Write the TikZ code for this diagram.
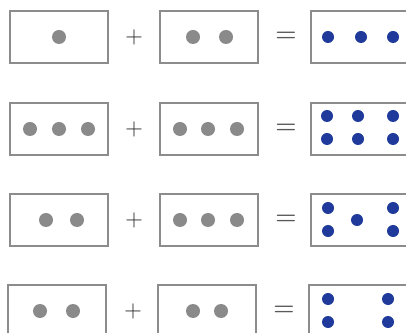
\documentclass[tikz,border=0pt]{standalone}
\usepackage{tikz}
\definecolor{dotgrey}{HTML}{8A8A8A}
\definecolor{dotblue}{HTML}{1F3A9A}
\definecolor{boxline}{HTML}{8C8C8C}
\tikzset{
  numbox/.style={draw=boxline, line width=1.1pt, minimum width=2.45cm, minimum height=1.3cm,
                 inner sep=0pt},
  greydot/.style={circle, fill=dotgrey, minimum size=0.35cm, inner sep=0pt},
  bluedot/.style={circle, fill=dotblue, minimum size=0.3cm, inner sep=0pt},
  plussign/.style={font=\fontsize{18}{18}\selectfont, text=black!85, inner sep=0pt},
  eqsign/.style={font=\fontsize{17}{17}\selectfont\boldmath, text=black!65, inner sep=0pt},
}

\begin{document}
\begin{tikzpicture}[x=0.025cm, y=-0.025cm]
    \useasboundingbox (0,0) rectangle (406,333);
    \clip (0,0) rectangle (406,333);
    % row 1: 1 + 2 = 3
    \node[numbox] (r1a) at (59,37) {};
    \node[plussign] (p1) at (134,37) {$+$};
    \node[numbox] (r1b) at (209,37) {};
    \node[eqsign] (e1) at (286,37) {$=$};
    \node[numbox] (r1c) at (360,37) {};
    \node[greydot] (r1a1) at (59,37) {};
    \node[greydot] (r1b1) at (193,37) {};
    \node[greydot] (r1b2) at (226,37) {};
    \node[bluedot] (r1c1) at (328,37) {};
    \node[bluedot] (r1c2) at (361,37) {};
    \node[bluedot] (r1c3) at (393,37) {};
    % row 2: 3 + 3 = 6
    \node[numbox] (r2a) at (59,129) {};
    \node[plussign] (p2) at (134,129) {$+$};
    \node[numbox] (r2b) at (209,129) {};
    \node[eqsign] (e2) at (286,129) {$=$};
    \node[numbox] (r2c) at (360,129) {};
    \node[greydot] (r2a1) at (30,129) {};
    \node[greydot] (r2a2) at (59,129) {};
    \node[greydot] (r2a3) at (88,129) {};
    \node[greydot] (r2b1) at (180,129) {};
    \node[greydot] (r2b2) at (208,129) {};
    \node[greydot] (r2b3) at (237,129) {};
    \node[bluedot] (r2c1) at (327,116) {};
    \node[bluedot] (r2c2) at (358,116) {};
    \node[bluedot] (r2c3) at (393,116) {};
    \node[bluedot] (r2c4) at (327,139) {};
    \node[bluedot] (r2c5) at (358,139) {};
    \node[bluedot] (r2c6) at (393,139) {};
    % row 3: 2 + 3 = 5
    \node[numbox] (r3a) at (59,220) {};
    \node[plussign] (p3) at (134,220) {$+$};
    \node[numbox] (r3b) at (209,220) {};
    \node[eqsign] (e3) at (286,220) {$=$};
    \node[numbox] (r3c) at (360,220) {};
    \node[greydot] (r3a1) at (46,220) {};
    \node[greydot] (r3a2) at (77,220) {};
    \node[greydot] (r3b1) at (180,220) {};
    \node[greydot] (r3b2) at (208,220) {};
    \node[greydot] (r3b3) at (237,220) {};
    \node[bluedot] (r3c1) at (328,208) {};
    \node[bluedot] (r3c2) at (393,208) {};
    \node[bluedot] (r3c3) at (357,220) {};
    \node[bluedot] (r3c4) at (328,231) {};
    \node[bluedot] (r3c5) at (393,231) {};
    % row 4: 2 + 2 = 4
    \node[numbox] (r4a) at (57,311) {};
    \node[plussign] (p4) at (133,311) {$+$};
    \node[numbox] (r4b) at (207,311) {};
    \node[eqsign] (e4) at (284,311) {$=$};
    \node[numbox] (r4c) at (358,311) {};
    \node[greydot] (r4a1) at (40,311) {};
    \node[greydot] (r4a2) at (73,311) {};
    \node[greydot] (r4b1) at (193,311) {};
    \node[greydot] (r4b2) at (221,311) {};
    \node[bluedot] (r4c1) at (328,299) {};
    \node[bluedot] (r4c2) at (388,299) {};
    \node[bluedot] (r4c3) at (328,322) {};
    \node[bluedot] (r4c4) at (388,322) {};
\end{tikzpicture}
\end{document}
